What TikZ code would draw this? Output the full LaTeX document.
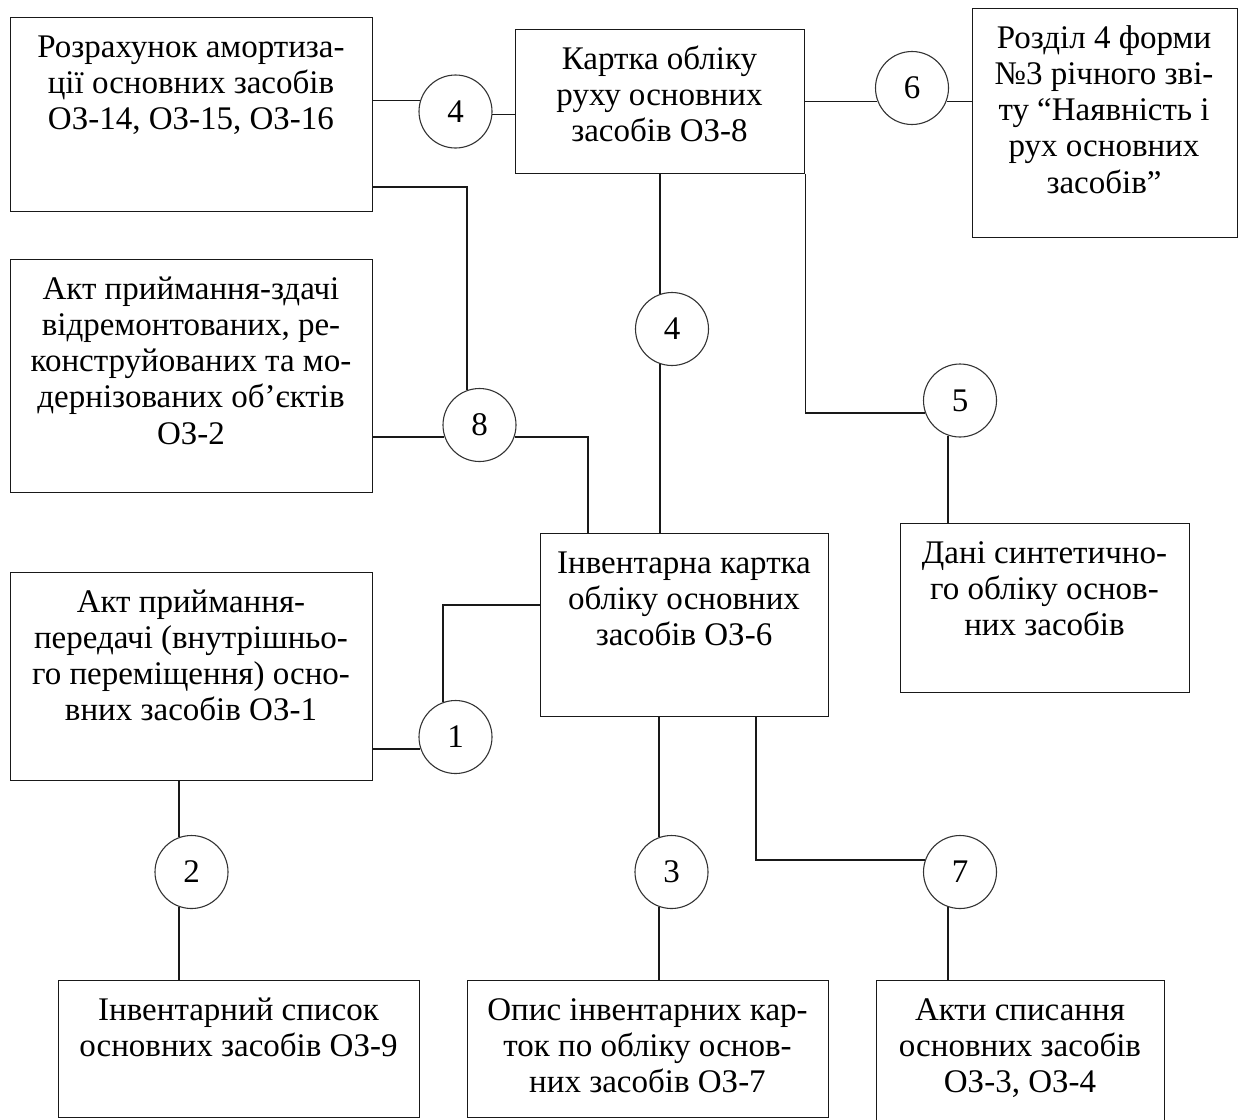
\documentclass[tikz,border=0pt]{standalone}
\usepackage{fontspec}
\setmainfont{Liberation Serif}
\begin{document}
\begin{tikzpicture}[x=1pt,y=-1pt,
  box/.style={draw=black!90,line width=1.4pt,rectangle,inner sep=0pt,anchor=north west},
  txt/.style={font=\fontsize{33}{36.25}\selectfont,align=center,inner sep=0pt,anchor=north},
  num/.style={draw=black!80,line width=1.1pt,circle,minimum size=73pt,inner sep=0pt,fill=white,font=\fontsize{33}{36.25}\selectfont},
  con/.style={draw=black!90,line width=1.4pt}]
\useasboundingbox (0,0) rectangle (1238,1119);
% boxes
\node[box,minimum width=362pt,minimum height=194pt] (b1) at (10,17) {};
\node[box,minimum width=289pt,minimum height=144pt] (b2) at (515,29) {};
\node[box,minimum width=265pt,minimum height=229pt] (b3) at (972,8) {};
\node[box,minimum width=362pt,minimum height=233pt] (b4) at (10,259) {};
\node[box,minimum width=288pt,minimum height=183pt] (b5) at (540,533) {};
\node[box,minimum width=289pt,minimum height=169pt] (b6) at (900,523) {};
\node[box,minimum width=362pt,minimum height=208pt] (b7) at (10,572) {};
\node[box,minimum width=361pt,minimum height=137pt] (b8) at (58,980) {};
\node[box,minimum width=361pt,minimum height=137pt] (b9) at (467,980) {};
\node[box,minimum width=288pt,minimum height=150pt] (b10) at (876,980) {};
% texts
\node[txt] (t1) at (191,32) {\rule{0pt}{25pt}Розрахунок амортиза-\\ції основних засобів\\ОЗ-14, ОЗ-15, ОЗ-16};
\node[txt] (t2) at (659.5,44) {\rule{0pt}{25pt}Картка обліку\\руху основних\\засобів ОЗ-8};
\node[txt] (t3) at (1104,23) {\rule{0pt}{25pt}Розділ 4 форми\\№3 річного зві-\\ту “Наявність і\\рух основних\\засобів”};
\node[txt] (t4) at (191,274) {\rule{0pt}{25pt}Акт приймання-здачі\\відремонтованих, ре-\\конструйованих та мо-\\дернізованих об’єктів\\ОЗ-2};
\node[txt] (t5) at (684,548) {\rule{0pt}{25pt}Інвентарна картка\\обліку основних\\засобів ОЗ-6};
\node[txt] (t6) at (1044.5,538) {\rule{0pt}{25pt}Дані синтетично-\\го обліку основ-\\них засобів};
\node[txt] (t7) at (191,587) {\rule{0pt}{25pt}Акт приймання-\\передачі (внутрішньо-\\го переміщення) осно-\\вних засобів ОЗ-1};
\node[txt] (t8) at (238.5,995) {\rule{0pt}{25pt}Інвентарний список\\основних засобів ОЗ-9};
\node[txt] (t9) at (647.5,995) {\rule{0pt}{25pt}Опис інвентарних кар-\\ток по обліку основ-\\них засобів ОЗ-7};
\node[txt] (t10) at (1020,995) {\rule{0pt}{25pt}Акти списання\\основних засобів\\ОЗ-3, ОЗ-4};
% circles
\node[num] (c4a) at (455.5,111.5) {4};
\node[num] (c6) at (912,88) {6};
\node[num] (c4b) at (672,329) {4};
\node[num] (c5) at (960,400.5) {5};
\node[num] (c8) at (479.5,425) {8};
\node[num] (c1) at (455.5,737) {1};
\node[num] (c2) at (191.5,872) {2};
\node[num] (c3) at (671.5,872) {3};
\node[num] (c7) at (960,872) {7};
\coordinate (j8) at (588,0);
\coordinate (j7) at (756,0);
% connectors
\draw[con] (b1.east |- c4a.163) -- (c4a.163);
\draw[con] (c4a.-5) -- (b2.west |- c4a.-5);
\draw[con] (b2.east |- c6.201) -- (c6.201);
\draw[con] (c6.-21) -- (b3.west |- c6.-21);
\draw[con] (c4b.109 |- b2.south) -- (c4b.109);
\draw[con] (c4b.251) -- (c4b.251 |- b5.north);
\draw[con] (b2.south east) |- (c5.200);
\draw[con] (c5.251) -- (c5.251 |- b6.north);
\draw[con] (b1.east |- 0,187) -| (c8.110);
\draw[con] (b4.east |- c8.199) -- (c8.199);
\draw[con] (c8.-19) -| (j8 |- b5.north);
\draw[con] (b5.west |- 0,605) -| (c1.110);
\draw[con] (b7.east |- c1.199) -- (c1.199);
\draw[con] (c2.110 |- b7.south) -- (c2.110);
\draw[con] (c2.250) -- (c2.250 |- b8.north);
\draw[con] (c3.110 |- b5.south) -- (c3.110);
\draw[con] (c3.250) -- (c3.250 |- b9.north);
\draw[con] (j7 |- b5.south) |- (c7.161);
\draw[con] (c7.251) -- (c7.251 |- b10.north);
\end{tikzpicture}
\end{document}
